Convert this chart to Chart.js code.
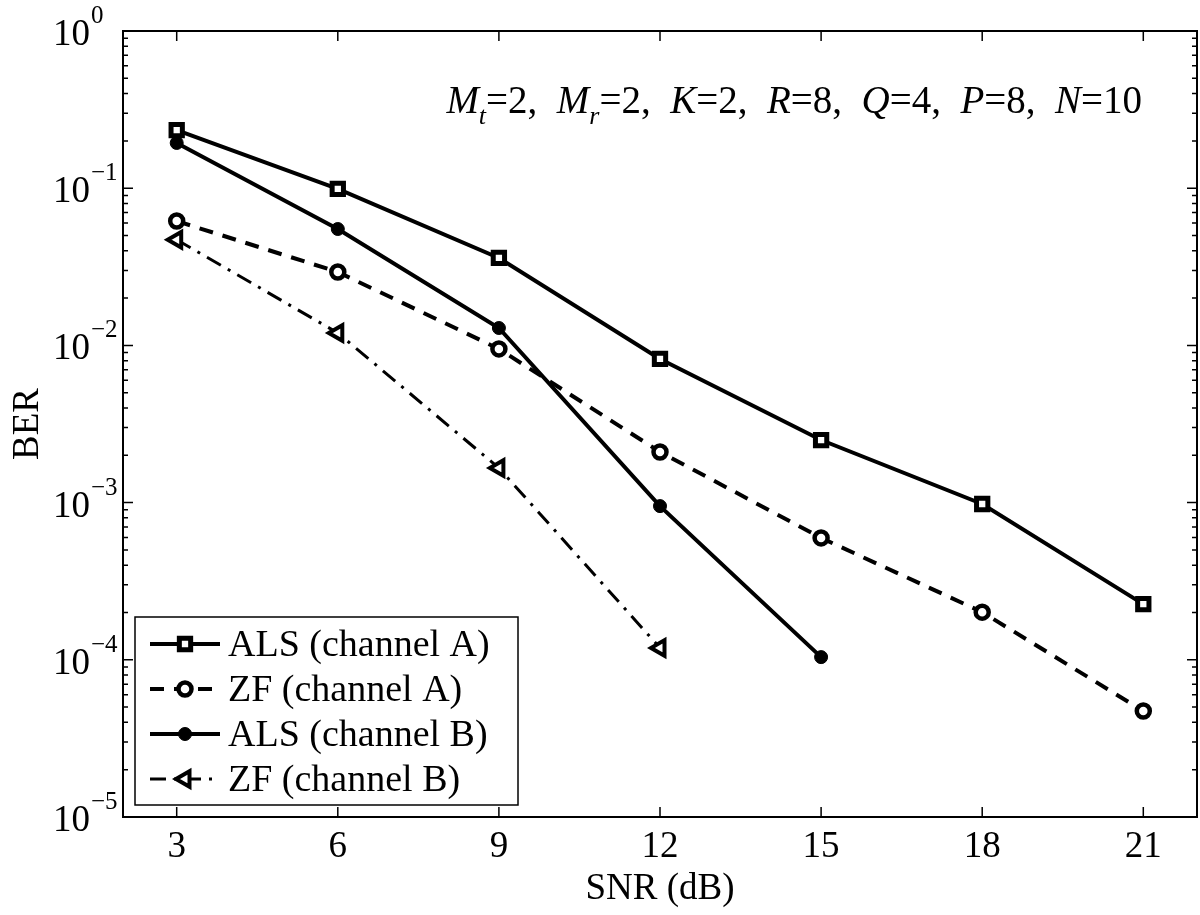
<!DOCTYPE html>
<html>
<head>
<meta charset="utf-8">
<script src="https://cdn.jsdelivr.net/npm/chart.js@4.4.0/dist/chart.umd.min.js"></script>
<style>
    html, body { margin: 0; padding: 0; background: #fff; overflow: hidden; }
    canvas { display: block; }
</style>
</head>
<body>
<canvas id="berChart" width="1200" height="915"></canvas>
<script>
// data
var snr = [3, 6, 9, 12, 15, 18, 21];
var alsA = [0.234, 0.099, 0.036, 0.0082, 0.0025, 0.00098, 0.000226];
var zfA = [0.0618, 0.0293, 0.0095, 0.0021, 0.000596, 0.000201, 0.0000472];
var alsB = [0.194, 0.055, 0.0129, 0.00095, 0.000104];
var zfB = [0.047, 0.012, 0.00166, 0.000119];
var xTicks = [3, 6, 9, 12, 15, 18, 21];
var yExps = [0, -1, -2, -3, -4, -5];
var seriesLabels = ['ALS (channel A)', 'ZF (channel A)', 'ALS (channel B)', 'ZF (channel B)'];
var params = [['M', 't', '2'], ['M', 'r', '2'], ['K', '', '2'], ['R', '', '8'], ['Q', '', '4'], ['P', '', '8'], ['N', '', '10']];

var FONT = "'Liberation Serif', 'Times New Roman', serif";

function pts(vals) {
    return vals.map(function (v, i) { return { x: snr[i], y: v }; });
}

// inward ticks, box frame and 10^n labels
var frameTicks = {
    id: 'frameTicks',
    afterDraw: function (chart) {
        var ctx = chart.ctx, a = chart.chartArea;
        var xs = chart.scales.x, ys = chart.scales.y;
        ctx.save();
        ctx.strokeStyle = '#000';
        ctx.lineWidth = 2;
        ctx.strokeRect(a.left, a.top, a.right - a.left, a.bottom - a.top);
        ctx.lineWidth = 1.5;
        ctx.beginPath();
        xTicks.forEach(function (v) {
            var px = xs.getPixelForValue(v);
            ctx.moveTo(px, a.bottom); ctx.lineTo(px, a.bottom - 10);
            ctx.moveTo(px, a.top); ctx.lineTo(px, a.top + 10);
        });
        yExps.forEach(function (e) {
            for (var m = 1; m <= 9; m++) {
                var v = m * Math.pow(10, e);
                if (v > ys.max * 1.0001 || v < ys.min * 0.9999) continue;
                var py = ys.getPixelForValue(v);
                var len = m === 1 ? 10 : 5;
                ctx.moveTo(a.left, py); ctx.lineTo(a.left + len, py);
                ctx.moveTo(a.right, py); ctx.lineTo(a.right - len, py);
            }
        });
        ctx.stroke();

        ctx.fillStyle = '#000';
        ctx.textAlign = 'left';
        ctx.textBaseline = 'alphabetic';
        yExps.forEach(function (e) {
            var py = ys.getPixelForValue(Math.pow(10, e));
            var x0 = 53;
            ctx.font = '37px ' + FONT;
            ctx.fillText('10', x0, py + 14);
            var w = ctx.measureText('10').width;
            ctx.font = '25px ' + FONT;
            ctx.fillText(e === 0 ? '0' : '\u2212' + (-e), x0 + w + 1, py - 8);
        });
        ctx.restore();
    }
};

// parameter line in the top right
var paramNote = {
    id: 'paramNote',
    afterDraw: function (chart) {
        var ctx = chart.ctx, a = chart.chartArea;
        var big = '39px ' + FONT, bigIt = 'italic 39px ' + FONT, subIt = 'italic 26px ' + FONT;
        var baseY = a.top + 82;
        var parts = [];
        params.forEach(function (p, i) {
            parts.push({ t: p[0], f: bigIt, dy: 0 });
            if (p[1]) parts.push({ t: p[1], f: subIt, dy: 11 });
            parts.push({ t: '=' + p[2] + (i < params.length - 1 ? ',  ' : ''), f: big, dy: 0 });
        });
        ctx.save();
        var total = 0;
        parts.forEach(function (s) { ctx.font = s.f; s.w = ctx.measureText(s.t).width; total += s.w; });
        var x = a.right - 55 - total;
        ctx.fillStyle = '#000';
        ctx.textBaseline = 'alphabetic';
        ctx.textAlign = 'left';
        parts.forEach(function (s) {
            ctx.font = s.f;
            ctx.fillText(s.t, x, baseY + s.dy);
            x += s.w;
        });
        ctx.restore();
    }
};

// boxed legend in the lower left of the plot
var boxLegend = {
    id: 'boxLegend',
    afterDraw: function (chart) {
        var ctx = chart.ctx, a = chart.chartArea;
        var bx = a.left + 12, bw = 383, bh = 188, by = a.bottom - 12 - bh;
        ctx.save();
        ctx.fillStyle = '#fff';
        ctx.fillRect(bx, by, bw, bh);
        ctx.strokeStyle = '#000';
        ctx.lineWidth = 1.5;
        ctx.strokeRect(bx, by, bw, bh);
        chart.data.datasets.forEach(function (ds, i) {
            var cy = by + 27 + i * 45;
            ctx.strokeStyle = ds.borderColor;
            ctx.lineWidth = ds.borderWidth;
            ctx.setLineDash(ds.borderDash || []);
            ctx.beginPath();
            ctx.moveTo(bx + 15, cy);
            ctx.lineTo(bx + 85, cy);
            ctx.stroke();
            ctx.setLineDash([]);
            ctx.fillStyle = ds.pointBackgroundColor;
            ctx.strokeStyle = ds.pointBorderColor;
            ctx.lineWidth = ds.pointBorderWidth;
            Chart.helpers.drawPoint(ctx, {
                pointStyle: ds.pointStyle,
                radius: ds.pointRadius,
                rotation: ds.pointRotation || 0,
                borderWidth: ds.pointBorderWidth
            }, bx + 50, cy);
            ctx.fillStyle = '#000';
            ctx.font = '38px ' + FONT;
            ctx.textBaseline = 'middle';
            ctx.textAlign = 'left';
            ctx.fillText(ds.label, bx + 93, cy + 2);
        });
        ctx.restore();
    }
};

var ctx = document.getElementById('berChart').getContext('2d');
var berChart = new Chart(ctx, {
    type: 'line',
    data: {
        datasets: [{
            label: seriesLabels[0],
            data: pts(alsA),
            borderColor: '#000',
            borderWidth: 4,
            pointStyle: 'rect',
            pointRadius: 8,
            pointBorderWidth: 5,
            pointBorderColor: '#000',
            pointBackgroundColor: '#fff'
        }, {
            label: seriesLabels[1],
            data: pts(zfA),
            borderColor: '#000',
            borderWidth: 4,
            borderDash: [14, 10],
            pointStyle: 'circle',
            pointRadius: 6.5,
            pointBorderWidth: 4.5,
            pointBorderColor: '#000',
            pointBackgroundColor: '#fff'
        }, {
            label: seriesLabels[2],
            data: pts(alsB),
            borderColor: '#000',
            borderWidth: 4,
            pointStyle: 'circle',
            pointRadius: 6.5,
            pointBorderWidth: 1,
            pointBorderColor: '#000',
            pointBackgroundColor: '#000'
        }, {
            label: seriesLabels[3],
            data: pts(zfB),
            borderColor: '#000',
            borderWidth: 3,
            borderDash: [16, 8, 3, 8],
            pointStyle: 'triangle',
            pointRotation: -90,
            pointRadius: 9,
            pointBorderWidth: 4,
            pointBorderColor: '#000',
            pointBackgroundColor: '#fff'
        }]
    },
    options: {
        responsive: false,
        animation: false,
        devicePixelRatio: 1,
        layout: { autoPadding: false, padding: { top: 31, right: 3, left: 0, bottom: 0 } },
        plugins: {
            legend: { display: false },
            tooltip: { enabled: false }
        },
        elements: { line: { tension: 0 } },
        scales: {
            x: {
                type: 'linear',
                min: 2,
                max: 22,
                afterBuildTicks: function (scale) {
                    scale.ticks = xTicks.map(function (v) { return { value: v }; });
                },
                afterFit: function (scale) {
                    scale.height = 98;
                    scale.paddingLeft = 0;
                    scale.paddingRight = 0;
                },
                grid: { display: false, drawTicks: false },
                border: { display: false },
                ticks: {
                    color: '#000',
                    font: { family: FONT, size: 37 },
                    padding: 8,
                    maxRotation: 0
                },
                title: {
                    display: true,
                    text: 'SNR (dB)',
                    color: '#000',
                    font: { family: FONT, size: 37 },
                    padding: { top: 0, bottom: 4 }
                }
            },
            y: {
                type: 'logarithmic',
                min: 1e-5,
                max: 1,
                afterFit: function (scale) {
                    scale.width = 123;
                    scale.paddingTop = 0;
                    scale.paddingBottom = 0;
                },
                grid: { display: false, drawTicks: false },
                border: { display: false },
                ticks: { display: false },
                title: {
                    display: true,
                    text: 'BER',
                    color: '#000',
                    font: { family: FONT, size: 37 },
                    padding: { top: 6, bottom: 0 }
                }
            }
        }
    },
    plugins: [frameTicks, paramNote, boxLegend]
});
</script>
</body>
</html>
